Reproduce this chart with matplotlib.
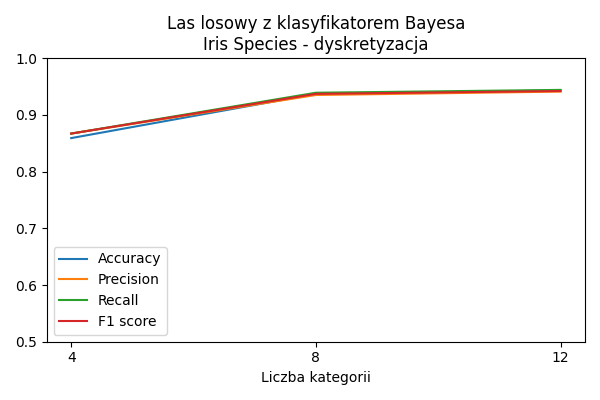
import matplotlib
matplotlib.use("Agg")
import matplotlib.pyplot as plt

categories = [4, 8, 12]
accuracy = [0.859, 0.937, 0.943]
precision = [0.867, 0.935, 0.941]
recall = [0.867, 0.939, 0.944]
f1 = [0.867, 0.937, 0.942]

fig, ax = plt.subplots(figsize=(6, 4), dpi=100)
ax.plot(categories, accuracy, label="Accuracy")
ax.plot(categories, precision, label="Precision")
ax.plot(categories, recall, label="Recall")
ax.plot(categories, f1, label="F1 score")
ax.set_ylim(0.5, 1.0)
ax.set_xticks(categories)
ax.set_xlabel("Liczba kategorii")
ax.set_title("Las losowy z klasyfikatorem Bayesa\nIris Species - dyskretyzacja")
ax.legend(loc="lower left")
fig.tight_layout()
fig.savefig("out.png")
